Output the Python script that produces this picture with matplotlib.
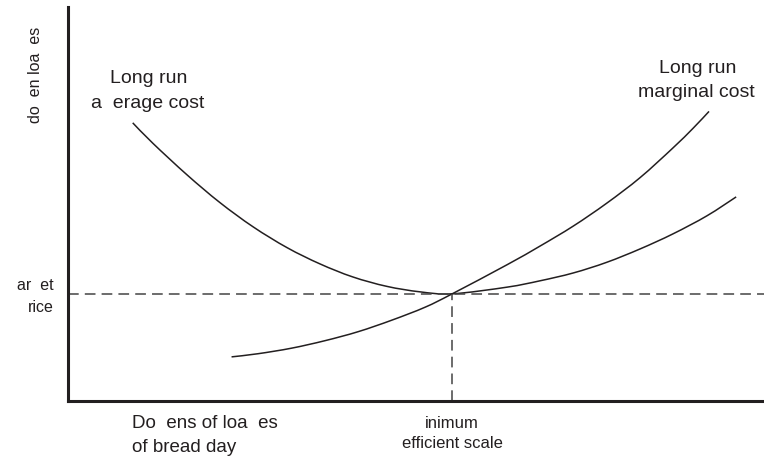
import numpy as np
import matplotlib
matplotlib.use("Agg")
import matplotlib.pyplot as plt
from matplotlib.path import Path
from matplotlib.patches import PathPatch

plt.rcParams['font.family'] = ['Liberation Sans', 'DejaVu Sans']

# Long run average cost (quantity, $/unit)
lrac_q = [9.3, 12.2, 17.1, 21.8, 26.6, 31.5, 36.2, 40.9, 45.8, 50.6, 55.2,
          63.1, 67.8, 72.6, 77.4, 82.2, 86.9, 91.8, 96.0]
lrac_p = [70.6, 65.4, 57.4, 50.4, 44.2, 38.9, 34.8, 31.5, 29.1, 27.7, 27.2,
          28.9, 30.5, 32.5, 35.2, 38.6, 42.4, 47.0, 51.8]

# Long run marginal cost
lrmc_q = [23.5, 27.3, 32.1, 36.9, 41.7, 46.5, 51.3, 55.2, 63.1, 67.8, 72.6,
          77.4, 82.2, 86.9, 89.8, 92.1]
lrmc_p = [11.2, 12.0, 13.4, 15.3, 17.6, 20.5, 23.8, 27.2, 34.6, 39.3, 44.4,
          50.2, 56.7, 64.2, 69.2, 73.5]

market_price = 27.2
min_eff_scale = 55.2

W, H = 764, 457
ink = '#231f20'


def smooth_path(xs, ys):
    # Catmull-Rom through the read points, drawn as cubic Beziers
    pts = np.column_stack([xs, ys])
    verts = [pts[0]]
    codes = [Path.MOVETO]
    n = len(pts)
    for i in range(n - 1):
        p0 = pts[max(i - 1, 0)]
        p1 = pts[i]
        p2 = pts[i + 1]
        p3 = pts[min(i + 2, n - 1)]
        verts += [p1 + (p2 - p0) / 6, p2 - (p3 - p1) / 6, p2]
        codes += [Path.CURVE4] * 3
    return Path(verts, codes)


fig = plt.figure(figsize=(W / 100, H / 100), dpi=100)
ax = fig.add_axes([68 / W, (H - 401) / H, (W - 68) / W, (401 - 7) / H])
ax.set_xlim(0, 100)
ax.set_ylim(0, 100)

for xs, ys in [(lrac_q, lrac_p), (lrmc_q, lrmc_p)]:
    ax.add_patch(PathPatch(smooth_path(xs, ys), fill=False, edgecolor=ink,
                           lw=1.1, capstyle='butt'))

ax.plot([0, 100], [market_price, market_price], color='#444444', lw=1.1,
        dashes=(7, 4), clip_on=False)
ax.plot([min_eff_scale, min_eff_scale], [0, market_price], color='#444444',
        lw=1.1, dashes=(7, 4))

for s in ['top', 'right']:
    ax.spines[s].set_visible(False)
for s in ['left', 'bottom']:
    ax.spines[s].set_linewidth(2.2)
    ax.spines[s].set_color(ink)
ax.set_xticks([])
ax.set_yticks([])
ax.patch.set_alpha(0)


def t(x, y, s, size, ha='center', **kw):
    fig.text(x / W, 1 - y / H, s, fontsize=size, ha=ha, va='baseline',
             color=ink, **kw)


t(149, 83, 'Long run', 14)
t(148, 108, 'a  erage cost', 14)
t(698, 73, 'Long run', 14)
t(696, 97, 'marginal cost', 14)
t(54, 290, 'ar  et', 11.5, ha='right')
t(54, 312, 'rice', 11.5, ha='right')
t(132, 428, 'Do  ens of loa  es', 13.5, ha='left')
t(132, 452, 'of bread day', 13.5, ha='left')
t(452, 428, 'inimum', 12)
t(452, 448, 'efficient scale', 12)
fig.text(35 / W, 1 - 75 / H, 'do  en loa  es', fontsize=11.5, rotation=90,
         ha='center', va='center', color=ink)

fig.savefig('out.png', dpi=100)
